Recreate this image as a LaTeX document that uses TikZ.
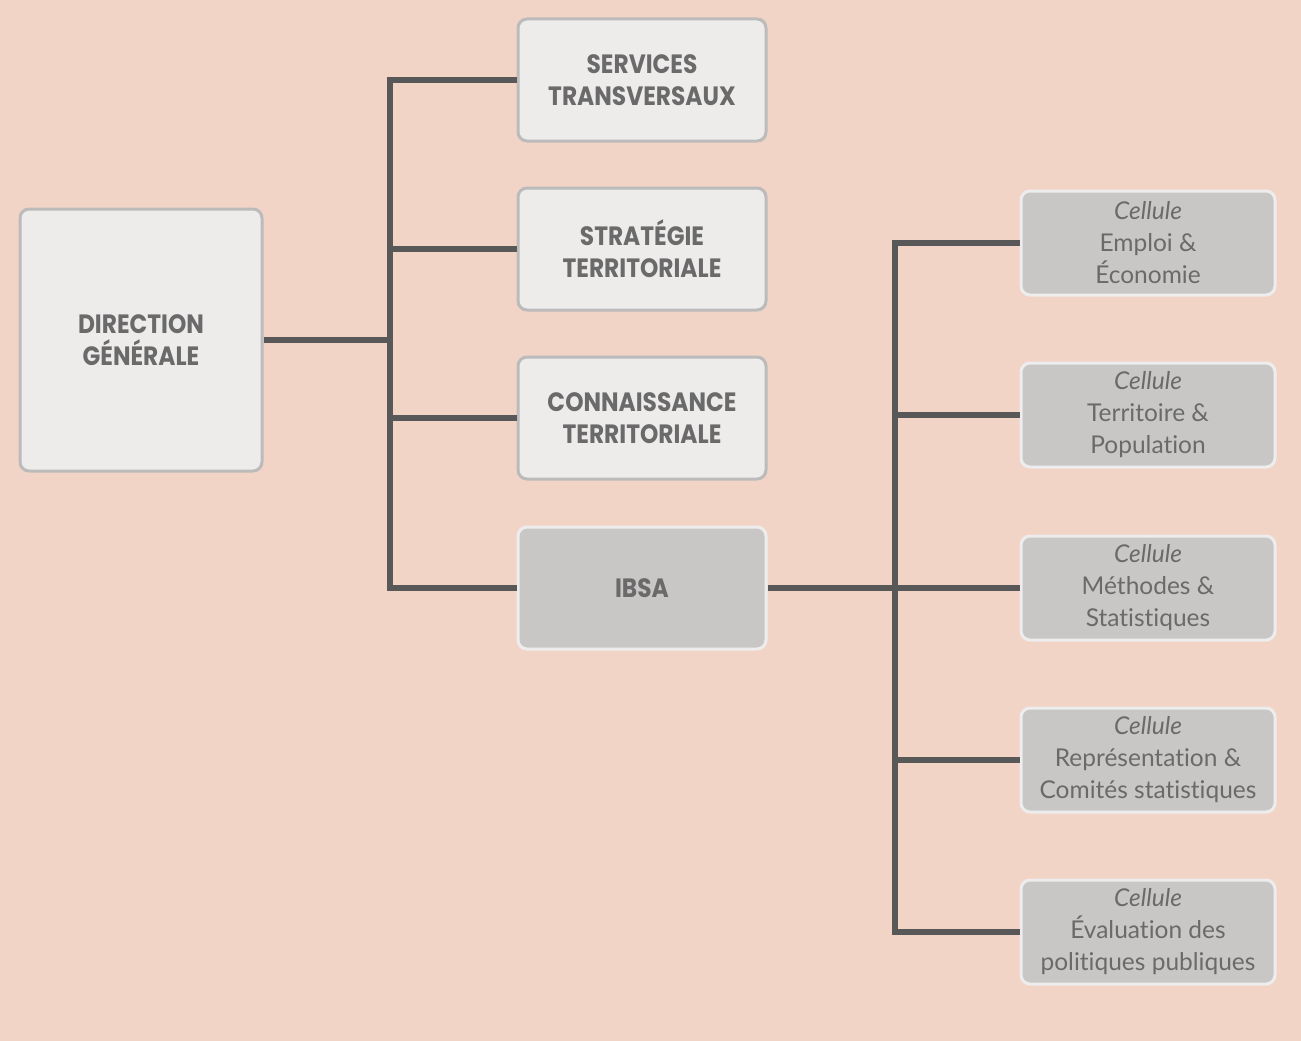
\documentclass[tikz,border=0pt]{standalone}
\usepackage{fontspec}
\newfontfamily\headfont[FakeStretch=0.88]{Poppins}
\newfontfamily\cellfont[Ligatures=NoCommon]{Lato}
\usetikzlibrary{positioning}
\definecolor{bgpeach}{HTML}{F2D4C7}
\definecolor{boxlight}{HTML}{EEEBEB}
\definecolor{boxgrey}{HTML}{C8C7C6}
\definecolor{rimgrey}{HTML}{BBBBBB}
\definecolor{rimlight}{HTML}{EEEDED}
\definecolor{linkgrey}{HTML}{585858}
\definecolor{textgrey}{HTML}{6A6A6A}
\tikzset{
    boxnode/.style = {align=center, inner sep=0pt, rounded corners=9pt, line width=3pt, text=textgrey},
    light_node/.style = {boxnode, fill=boxlight, draw=rimgrey, minimum width=248pt, minimum height=122pt, font=\headfont\bfseries\fontsize{26.5}{32}\selectfont},
    ibsa_node/.style = {light_node, fill=boxgrey, draw=rimlight},
    cell_node/.style = {boxnode, fill=boxgrey, draw=rimlight, minimum width=254pt, minimum height=104pt, font=\cellfont\fontsize{24.5}{32}\selectfont},
    link/.style = {draw=linkgrey, line width=5.2pt}
}

\begin{document}
\begin{tikzpicture}[x=1pt, y=-1pt]
    \fill[bgpeach] (0,0) rectangle (1301,1041);
    \useasboundingbox (0,0) rectangle (1301,1041);

    % left column
    \node [light_node, minimum width=242pt, minimum height=262pt] (dg) at (141,340) {DIRECTION\\GÉNÉRALE};

    % middle column
    \node [light_node] (serv) at (642,80) {SERVICES\\TRANSVERSAUX};
    \node [light_node] (strat) at (642,249) {STRATÉGIE\\TERRITORIALE};
    \node [light_node] (conn) at (642,418) {CONNAISSANCE\\TERRITORIALE};
    \node [ibsa_node] (ibsa) at (642,588) {IBSA};

    % right column
    \node [cell_node] (emploi) at (1148,243) {\textit{Cellule}\\Emploi \&\\Économie};
    \node [cell_node] (terr) at (1148,415) {\textit{Cellule}\\Territoire \&\\Population};
    \node [cell_node] (meth) at (1148,588) {\textit{Cellule}\\Méthodes \&\\Statistiques};
    \node [cell_node] (repr) at (1148,760) {\textit{Cellule}\\Représentation \&\\Comités statistiques};
    \node [cell_node] (eval) at (1148,932) {\textit{Cellule}\\Évaluation des\\politiques publiques};

    % links
    \coordinate (hub) at (390,340);
    \coordinate (subhub) at (895,588);
    \draw[link] (dg.east) -- (hub);
    \foreach \n in {serv,strat,conn,ibsa}
        \draw[link] (hub) |- (\n.west);
    \draw[link] (ibsa.east) -- (subhub);
    \foreach \n in {emploi,terr,meth,repr,eval}
        \draw[link] (subhub) |- (\n.west);
\end{tikzpicture}
\end{document}
